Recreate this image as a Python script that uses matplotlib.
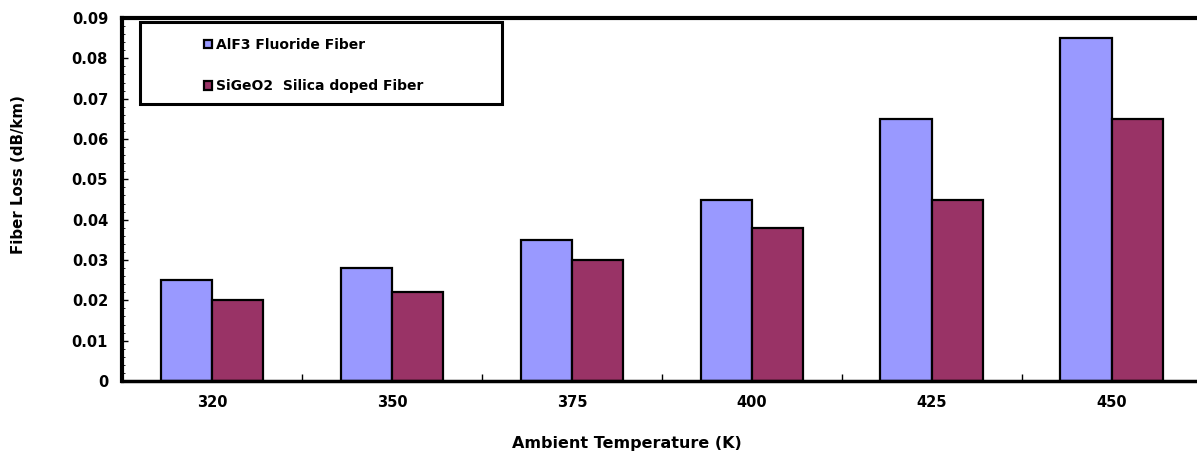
import numpy as np
import matplotlib
matplotlib.use('Agg')
import matplotlib.pyplot as plt
from matplotlib.ticker import MultipleLocator
from matplotlib.patches import Rectangle

plt.rcParams['font.family'] = 'DejaVu Sans'
plt.rcParams['font.weight'] = 'bold'

temps = ['320', '350', '375', '400', '425', '450']
alf3_loss = [0.025, 0.028, 0.035, 0.045, 0.065, 0.085]
sigeo2_loss = [0.020, 0.022, 0.030, 0.038, 0.045, 0.065]

labels = ['AlF3 Fluoride Fiber', 'SiGeO2  Silica doped Fiber']
colors = ['#9999FF', '#993366']

fig = plt.figure(figsize=(11.97, 4.57), dpi=100)
ax = fig.add_axes([0.1019, 0.1663, 0.902, 0.7943])

x = np.arange(len(temps))
w = 0.285
ax.bar(x - w/2, alf3_loss, w, color=colors[0], edgecolor='black', linewidth=1.6, label=labels[0])
ax.bar(x + w/2, sigeo2_loss, w, color=colors[1], edgecolor='black', linewidth=1.6, label=labels[1])

ax.set_xlim(-0.5, len(temps) - 0.5)
ax.set_ylim(0, 0.09)
ax.set_xticks(x)
ax.set_xticklabels(temps)
ax.set_xticks(np.arange(len(temps) + 1) - 0.5, minor=True)
ax.tick_params(axis='x', which='major', length=0, pad=10, labelsize=10.5)
ax.tick_params(axis='x', which='minor', direction='in', length=5, width=1)
ax.yaxis.set_major_locator(MultipleLocator(0.01))
ax.yaxis.set_minor_locator(MultipleLocator(0.002))
ax.set_yticklabels(['0' if v == 0 else '%.2f' % v for v in ax.get_yticks()])
ax.tick_params(axis='y', which='major', direction='in', length=4, width=1, labelsize=10.5, pad=10)
ax.tick_params(axis='y', which='minor', direction='in', length=2, width=0.6)

ax.spines['left'].set_linewidth(3)
ax.spines['top'].set_linewidth(3)
ax.spines['bottom'].set_linewidth(2.5)
ax.spines['right'].set_linewidth(3)

ax.set_xlabel('Ambient Temperature (K)', fontsize=11.5, fontweight='bold')
ax.xaxis.set_label_coords(0.468, -0.152)
ax.set_ylabel('Fiber Loss (dB/km)', fontsize=10.8, fontweight='bold')
ax.yaxis.set_label_coords(-0.089, 0.57)

# legend box drawn separately, wider than its contents as in the original
ax.add_patch(Rectangle((0.0165, 0.763), 0.3355, 0.226, transform=ax.transAxes,
                       facecolor='white', edgecolor='black', linewidth=2.2,
                       zorder=5, clip_on=False))
leg = ax.legend(loc='upper left', bbox_to_anchor=(0.076, 0.946), fontsize=10,
                handlelength=0.55, handleheight=0.55, handletextpad=0.3,
                borderpad=0, labelspacing=2.0, frameon=False,
                borderaxespad=0)
leg.set_zorder(6)
for t in leg.get_texts():
    t.set_fontweight('bold')

fig.savefig('out.png', dpi=100)
